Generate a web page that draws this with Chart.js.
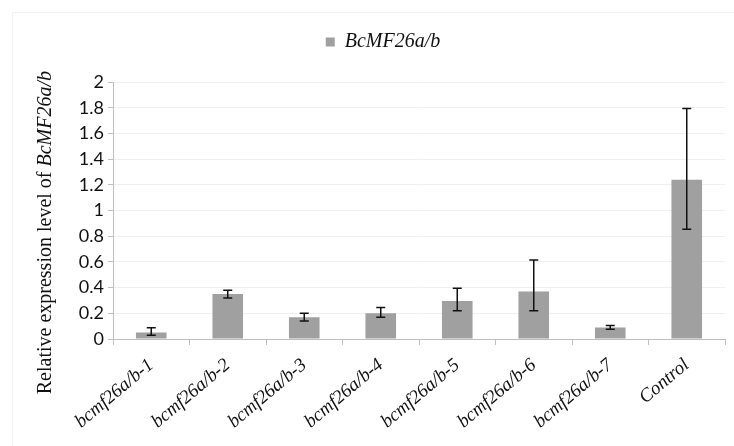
<!DOCTYPE html>
<html>
<head>
<meta charset="utf-8">
<script src="https://cdn.jsdelivr.net/npm/chart.js@4/dist/chart.umd.min.js"></script>
<style>
    html, body { margin: 0; padding: 0; background: #fff; }
    #wrap { position: relative; width: 734px; height: 446px; overflow: hidden; }
    #frame { position: absolute; left: 12px; top: 12px; width: 740px; height: 460px; border: 1px solid #f2f2f2; border-right: none; }
    canvas { position: absolute; left: 0; top: 0; }
</style>
</head>
<body>
<div id="wrap">
    <div id="frame"></div>
    <canvas id="chart" width="734" height="446"></canvas>
</div>
<script>
const categories = ['bcmf26a/b-1', 'bcmf26a/b-2', 'bcmf26a/b-3', 'bcmf26a/b-4', 'bcmf26a/b-5', 'bcmf26a/b-6', 'bcmf26a/b-7', 'Control'];
const expression = [0.05, 0.35, 0.17, 0.20, 0.295, 0.37, 0.09, 1.24];
const errorPlus = [0.037, 0.03, 0.03, 0.045, 0.1, 0.245, 0.015, 0.555];
const errorMinus = [0.02, 0.03, 0.03, 0.03, 0.075, 0.15, 0.015, 0.385];
const yTicks = [0, 0.2, 0.4, 0.6, 0.8, 1, 1.2, 1.4, 1.6, 1.8, 2];
const seriesName = 'BcMF26a/b';

// エラーバー
const errorBars = {
    id: 'errorBars',
    afterDatasetsDraw(chart) {
        const ctx = chart.ctx;
        const y = chart.scales.y;
        const meta = chart.getDatasetMeta(0);
        ctx.save();
        ctx.strokeStyle = '#111';
        ctx.lineWidth = 1.5;
        meta.data.forEach((bar, i) => {
            const top = y.getPixelForValue(expression[i] + errorPlus[i]);
            const bottom = y.getPixelForValue(expression[i] - errorMinus[i]);
            ctx.beginPath();
            ctx.moveTo(bar.x, top);
            ctx.lineTo(bar.x, bottom);
            ctx.moveTo(bar.x - 4.5, top);
            ctx.lineTo(bar.x + 4.5, top);
            ctx.moveTo(bar.x - 4.5, bottom);
            ctx.lineTo(bar.x + 4.5, bottom);
            ctx.stroke();
        });
        ctx.restore();
    }
};

// y軸タイトル（一部イタリック）
const yTitle = {
    id: 'yTitle',
    afterDraw(chart) {
        const ctx = chart.ctx;
        const area = chart.chartArea;
        const plain = 'Relative expression level of ';
        const italic = seriesName;
        ctx.save();
        ctx.fillStyle = '#111';
        ctx.font = '20px "Liberation Serif"';
        const w1 = ctx.measureText(plain).width;
        ctx.font = 'italic 20px "Liberation Serif"';
        const w2 = ctx.measureText(italic).width;
        const cy = (area.top + area.bottom) / 2 + 22;
        ctx.translate(46, cy);
        ctx.rotate(-Math.PI / 2);
        ctx.textBaseline = 'middle';
        ctx.textAlign = 'left';
        const start = -(w1 + w2) / 2;
        ctx.font = '20px "Liberation Serif"';
        ctx.fillText(plain, start, 0);
        ctx.font = 'italic 20px "Liberation Serif"';
        ctx.fillText(italic, start + w1, 0);
        ctx.restore();
    }
};

new Chart(document.getElementById('chart'), {
    type: 'bar',
    data: {
        labels: categories,
        datasets: [{
            label: seriesName,
            data: expression,
            backgroundColor: '#a0a0a0',
            borderWidth: 0,
            categoryPercentage: 1,
            barPercentage: 0.4
        }]
    },
    options: {
        responsive: false,
        animation: false,
        layout: { padding: { top: 4, right: 9, bottom: 0, left: 41 } },
        plugins: {
            legend: {
                display: true,
                position: 'top',
                labels: {
                    boxWidth: 9,
                    boxHeight: 9,
                    padding: 28,
                    color: '#111',
                    font: { family: '"Liberation Serif"', style: 'italic', size: 20 }
                }
            },
            // 凡例とグラフの間のすき間
            subtitle: {
                display: true,
                text: ' ',
                weight: 500,
                font: { size: 1 },
                padding: { top: 0, bottom: 19 }
            },
            tooltip: { enabled: false }
        },
        scales: {
            x: {
                offset: true,
                grid: {
                    offset: true,
                    drawOnChartArea: false,
                    drawTicks: true,
                    tickLength: 6,
                    tickColor: '#bfbfbf'
                },
                border: { color: '#bfbfbf', width: 1 },
                ticks: {
                    minRotation: 40,
                    maxRotation: 40,
                    color: '#111',
                    padding: 9,
                    font: { family: '"Liberation Serif"', style: 'italic', size: 19 }
                },
                afterFit(scale) { scale.height = 107; }
            },
            y: {
                min: 0,
                max: 2,
                afterBuildTicks(scale) { scale.ticks = yTicks.map(v => ({ value: v })); },
                grid: {
                    color: '#f0f0f0',
                    tickColor: '#bfbfbf',
                    tickLength: 5
                },
                border: { color: '#bfbfbf', width: 1 },
                ticks: {
                    color: '#111',
                    padding: 4,
                    font: { family: 'Lato', size: 18 },
                    callback: (v) => String(v)
                },
                afterFit(scale) { scale.width = 72; }
            }
        }
    },
    plugins: [errorBars, yTitle]
});
</script>
</body>
</html>
